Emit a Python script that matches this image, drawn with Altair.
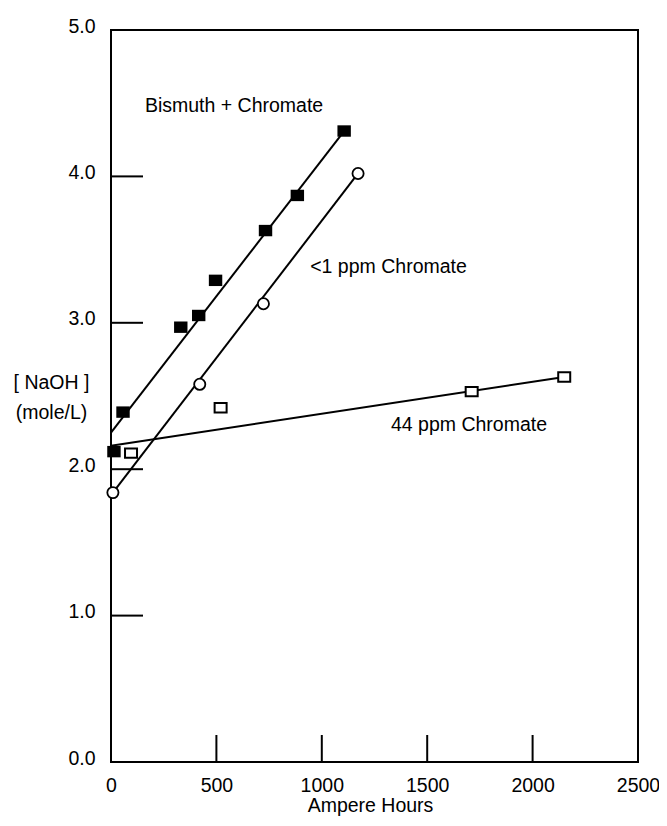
import altair as alt
import pandas as pd

# ---- data ----
bis_x = [14, 57, 331, 416, 496, 733, 884, 1106]
bis_y = [2.12, 2.39, 2.97, 3.05, 3.29, 3.63, 3.87, 4.31]

low_x = [9, 421, 723, 1172]
low_y = [1.84, 2.58, 3.13, 4.02]

c44_x = [95, 520, 1711, 2150]
c44_y = [2.11, 2.42, 2.53, 2.63]

# fitted lines (end points)
bis_line_x = [0, 1106]
bis_line_y = [2.25, 4.31]
low_line_x = [9, 1172]
low_line_y = [1.84, 4.02]
c44_line_x = [0, 2150]
c44_line_y = [2.16, 2.63]

ann_text = ["Bismuth + Chromate", "<1 ppm Chromate", "44 ppm Chromate"]
ann_x = [161, 945, 1328]
ann_y = [4.48, 3.38, 2.30]

x_ticks = [0, 500, 1000, 1500, 2000, 2500]
y_ticks = [0, 1, 2, 3, 4, 5]
x_inner_ticks = [500, 1000, 1500, 2000]
y_inner_ticks = [1, 2, 3, 4]

FONT = "Liberation Sans"
FS = 19.5

W, H = 527, 732

xscale = alt.Scale(domain=[0, 2500], nice=False, zero=False)
yscale = alt.Scale(domain=[0, 5], nice=False, zero=False)

lines = pd.DataFrame({
    "x": bis_line_x + low_line_x + c44_line_x,
    "y": bis_line_y + low_line_y + c44_line_y,
    "s": ["bis"] * 2 + ["low"] * 2 + ["c44"] * 2,
})

line_layer = alt.Chart(lines).mark_line(color="black", strokeWidth=2).encode(
    x=alt.X("x:Q", scale=xscale,
            axis=alt.Axis(values=x_ticks, format="d", tickSize=0, domain=False, grid=False,
                          labelFontSize=FS, labelFont=FONT, labelColor="black",
                          labelPadding=14, labelFlush=False,
                          title="Ampere Hours", titleFont=FONT, titleFontSize=FS,
                          titleFontWeight="normal", titleColor="black",
                          titleX=259, titleY=43, titleAlign="center", titleBaseline="middle")),
    y=alt.Y("y:Q", scale=yscale,
            axis=alt.Axis(values=y_ticks, format=".1f", tickSize=0, domain=False, grid=False,
                          labelFontSize=FS, labelFont=FONT, labelColor="black",
                          labelPadding=16, labelOffset=-4, labelFlush=False,
                          title=["[ NaOH ]", "(mole/L)"], titleAngle=0, titleFont=FONT,
                          titleFontSize=FS, titleFontWeight="normal", titleColor="black",
                          titleX=-60, titleY=352, titleAlign="center", titleBaseline="middle",
                          titleLineHeight=30)),
    detail="s:N",
)

bis_df = pd.DataFrame({"x": bis_x, "y": bis_y})
low_df = pd.DataFrame({"x": low_x, "y": low_y})
c44_df = pd.DataFrame({"x": c44_x, "y": c44_y})

bis_layer = alt.Chart(bis_df).mark_point(
    shape="M-1,-0.85L1,-0.85L1,0.85L-1,0.85Z", size=180, filled=True,
    color="black", opacity=1
).encode(x=alt.X("x:Q", scale=xscale), y=alt.Y("y:Q", scale=yscale))

low_layer = alt.Chart(low_df).mark_point(
    shape="circle", size=125, filled=True, fill="white", stroke="black",
    strokeWidth=1.8, opacity=1
).encode(x=alt.X("x:Q", scale=xscale), y=alt.Y("y:Q", scale=yscale))

c44_layer = alt.Chart(c44_df).mark_point(
    shape="M-1,-0.78L1,-0.78L1,0.78L-1,0.78Z", size=144, filled=True, fill="white",
    stroke="black", strokeWidth=2, opacity=1
).encode(x=alt.X("x:Q", scale=xscale), y=alt.Y("y:Q", scale=yscale))

ann_df = pd.DataFrame({"t": ann_text, "x": ann_x, "y": ann_y})
ann_layer = alt.Chart(ann_df).mark_text(
    align="left", baseline="middle", font=FONT, fontSize=FS, color="black"
).encode(x=alt.X("x:Q", scale=xscale), y=alt.Y("y:Q", scale=yscale), text="t:N")

ytick_df = pd.DataFrame({"v": y_inner_ticks})
ytick_layer = alt.Chart(ytick_df).mark_rule(color="black", strokeWidth=2).encode(
    y=alt.Y("v:Q", scale=yscale), x=alt.value(0), x2=alt.value(32)
)

xtick_df = pd.DataFrame({"v": x_inner_ticks})
xtick_layer = alt.Chart(xtick_df).mark_rule(color="black", strokeWidth=2).encode(
    x=alt.X("v:Q", scale=xscale), y=alt.value(H - 27), y2=alt.value(H)
)

chart = alt.layer(
    line_layer, ytick_layer, xtick_layer, bis_layer, low_layer, c44_layer, ann_layer
).properties(
    width=W, height=H,
    autosize=alt.AutoSizeParams(type="none"),
    padding={"left": 103, "top": 22, "right": 21, "bottom": 56},
    background="white",
).configure_view(stroke="black", strokeWidth=2)

chart.save("out.html", embed_options={"renderer": "svg", "actions": False})
